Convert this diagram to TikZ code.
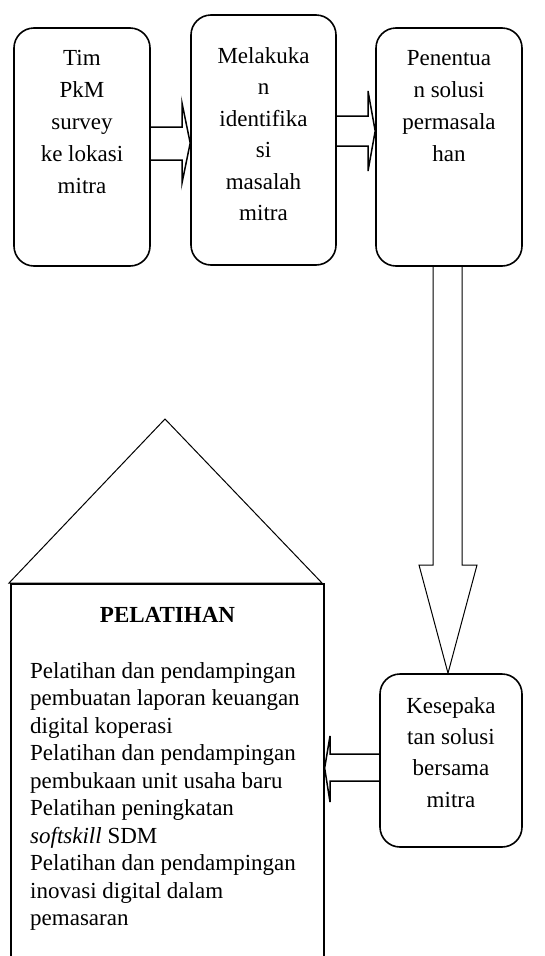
\documentclass[tikz,border=0pt]{standalone}
\usepackage{fontspec}
\setmainfont{Liberation Serif}
\begin{document}
\begin{tikzpicture}[x=1pt,y=-1pt,
	langkah/.style={draw, line width=1.6pt, rounded corners=20pt, inner sep=0pt},
	isi/.style={align=center, inner sep=0pt, anchor=north},
	panah/.style={draw, line width=1.5pt, line join=miter},
]
	\useasboundingbox (0,0) rectangle (544,956);
	% kotak langkah
	\node[langkah, minimum width=136pt, minimum height=238pt] (survey) at (82,147) {};
	\node[langkah, minimum width=145pt, minimum height=250pt] (identifikasi) at (263.5,140) {};
	\node[langkah, minimum width=146pt, minimum height=238pt] (solusi) at (449,147) {};
	\node[langkah, minimum width=142pt, minimum height=173pt] (sepakat) at (451,760.5) {};
	\node[isi, font=\fontsize{23}{32}\selectfont] at (survey.north |- 0,50) {Tim\\PkM\\survey\\ke lokasi\\mitra};
	\node[isi, font=\fontsize{23}{31.5}\selectfont] at (identifikasi.north |- 0,47) {Melakuka\\n\\identifika\\si\\masalah\\mitra};
	\node[isi, font=\fontsize{23}{32}\selectfont] at (solusi.north |- 0,50) {Penentua\\n solusi\\permasala\\han};
	\node[isi, font=\fontsize{23}{31.3}\selectfont] at (sepakat.north |- 0,697) {Kesepaka\\tan solusi\\bersama\\mitra};
	% pelatihan
	\node[draw, line width=1.3pt, minimum width=313pt, minimum height=420pt, inner sep=0pt] (latih) at (167.5,794) {};
	\draw[line width=1pt] (9,583) -- (165,419) -- (322,583) -- cycle;
	\node[anchor=base, inner sep=0pt, font=\bfseries\fontsize{23}{28}\selectfont] (judul) at (latih.north |- 0,622) {PELATIHAN};
	\node[anchor=north west, align=left, inner sep=0pt, font=\fontsize{23}{27.5}\selectfont] (daftar) at (30,662) {Pelatihan dan pendampingan\\pembuatan laporan keuangan\\digital koperasi\\Pelatihan dan pendampingan\\pembukaan unit usaha baru\\Pelatihan peningkatan\\\textit{softskill} SDM\\Pelatihan dan pendampingan\\inovasi digital dalam\\pemasaran};
	% panah blok
	\draw[panah] (survey.east |- 0,127) -- (182,127) -- (182,103) -- (identifikasi.west |- 0,143) -- (182,183) -- (182,160) -- (survey.east |- 0,160);
	\draw[panah] (identifikasi.east |- 0,116) -- (368,116) -- (368,91) -- (solusi.west |- 0,131) -- (368,171) -- (368,146) -- (identifikasi.east |- 0,146);
	\draw[line width=1pt, line join=miter] (433,0 |- solusi.south) -- (433,565) -- (419,565) -- (448,0 |- sepakat.north) -- (477,565) -- (462,565) -- (462,0 |- solusi.south);
	\draw[panah] (sepakat.west |- 0,754) -- (330,754) -- (330,736) -- (latih.east |- 0,768) -- (330,802) -- (330,781) -- (sepakat.west |- 0,781);
\end{tikzpicture}
\end{document}
